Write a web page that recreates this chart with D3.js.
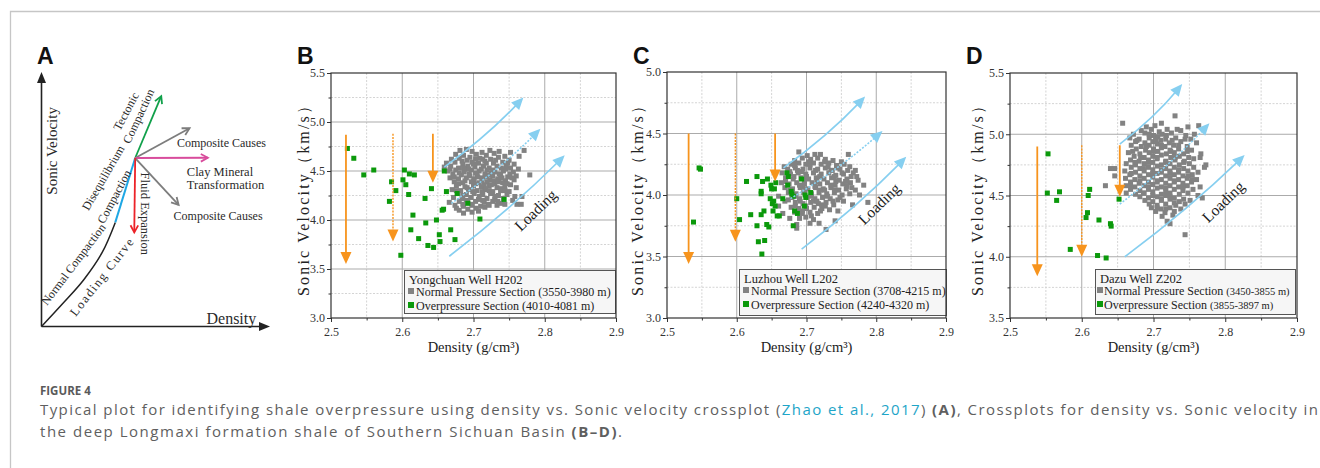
<!DOCTYPE html>
<html>
<head>
<meta charset="utf-8">
<script src="https://cdn.jsdelivr.net/npm/d3@7"></script>
<style>
  html, body { margin: 0; padding: 0; background: #fff; }
  svg { display: block; }
</style>
</head>
<body>
<svg id="fig" width="1320" height="468"></svg>
<script>
// ---------------- data ----------------
const densityTicks = [2.5, 2.6, 2.7, 2.8, 2.9];
const velocityTicksB = [3.0, 3.5, 4.0, 4.5, 5.0, 5.5];
const velocityTicksC = [3.0, 3.5, 4.0, 4.5, 5.0];
const velocityTicksD = [3.5, 4.0, 4.5, 5.0, 5.5];

const wellNames = ["Yongchuan Well H202", "Luzhou Well L202", "Dazu Well Z202"];
const normalDepths = ["(3550-3980 m)", "(3708-4215 m)", "(3450-3855 m)"];
const overDepths = ["(4010-4081 m)", "(4240-4320 m)", "(3855-3897 m)"];

// [density g/cm3, sonic velocity km/s]
const normalB = [
  [2.690,4.72],[2.681,4.71],[2.698,4.70],[2.712,4.69],[2.723,4.71],[2.736,4.70],[2.771,4.71],[2.752,4.69],
  [2.675,4.67],[2.686,4.66],[2.704,4.67],[2.718,4.66],[2.729,4.68],[2.744,4.65],[2.764,4.65],[2.695,4.64],
  [2.669,4.62],[2.680,4.63],[2.709,4.63],[2.724,4.62],[2.735,4.64],[2.750,4.61],[2.691,4.61],[2.716,4.60],
  [2.662,4.58],[2.674,4.59],[2.685,4.57],[2.698,4.59],[2.707,4.58],[2.728,4.58],[2.741,4.59],[2.757,4.57],[2.746,4.55],
  [2.659,4.54],[2.668,4.55],[2.679,4.53],[2.692,4.55],[2.702,4.54],[2.714,4.55],[2.722,4.53],[2.733,4.55],[2.752,4.53],[2.763,4.52],
  [2.664,4.50],[2.675,4.51],[2.687,4.49],[2.697,4.51],[2.708,4.50],[2.719,4.51],[2.730,4.49],[2.742,4.50],[2.756,4.49],[2.779,4.46],
  [2.671,4.47],[2.683,4.46],[2.694,4.47],[2.705,4.46],[2.716,4.47],[2.727,4.45],[2.738,4.46],[2.748,4.44],[2.760,4.45],
  [2.667,4.43],[2.679,4.42],[2.690,4.43],[2.701,4.42],[2.712,4.43],[2.723,4.41],[2.734,4.42],[2.745,4.40],[2.757,4.41],
  [2.673,4.39],[2.685,4.38],[2.697,4.39],[2.708,4.38],[2.719,4.39],[2.730,4.37],[2.741,4.38],[2.752,4.36],
  [2.676,4.35],[2.688,4.34],[2.700,4.35],[2.711,4.34],[2.722,4.35],[2.733,4.33],[2.744,4.34],[2.760,4.33],
  [2.670,4.31],[2.682,4.30],[2.693,4.31],[2.705,4.30],[2.716,4.31],[2.727,4.29],[2.738,4.30],[2.750,4.29],
  [2.678,4.27],[2.690,4.26],[2.701,4.27],[2.713,4.26],[2.724,4.27],[2.735,4.25],[2.747,4.26],[2.758,4.24],
  [2.672,4.23],[2.684,4.22],[2.696,4.23],[2.707,4.21],[2.719,4.22],[2.730,4.21],[2.742,4.22],[2.768,4.24],
  [2.680,4.19],[2.692,4.18],[2.703,4.19],[2.715,4.18],[2.727,4.19],[2.738,4.17],[2.666,4.18],
  [2.674,4.15],[2.686,4.14],[2.698,4.15],[2.710,4.14],[2.721,4.16],[2.744,4.16],[2.761,4.16],[2.767,4.16],
  [2.680,4.10],[2.692,4.11],[2.704,4.12],[2.716,4.13],[2.686,4.07],[2.698,4.08],[2.676,4.12],
  [2.700,4.40],[2.715,4.36],[2.706,4.44],[2.725,4.48],[2.693,4.52],[2.712,4.29],[2.729,4.40],[2.739,4.53],[2.718,4.58],[2.703,4.62],
  [2.684,4.60],[2.700,4.57],[2.713,4.62],[2.731,4.61],[2.748,4.58],[2.667,4.52],[2.686,4.53],[2.711,4.52],[2.727,4.51],[2.745,4.52],
  [2.680,4.48],[2.703,4.48],[2.722,4.46],[2.736,4.47],[2.751,4.47],[2.673,4.44],[2.695,4.45],[2.718,4.44],[2.740,4.43],[2.754,4.43],
  [2.688,4.40],[2.712,4.40],[2.735,4.39],[2.679,4.37],[2.703,4.37],[2.725,4.36],[2.747,4.37],[2.691,4.33],[2.717,4.32],[2.739,4.32],
  [2.676,4.30],[2.699,4.29],[2.722,4.30],[2.744,4.30],[2.685,4.25],[2.708,4.24],[2.730,4.24],[2.690,4.20],[2.713,4.20],[2.734,4.19],
  [2.698,4.16],[2.722,4.15],[2.685,4.16],[2.707,4.09],[2.733,4.15],[2.755,4.20]
];
const overB = [
  [2.523,4.73],[2.532,4.63],[2.546,4.46],[2.560,4.51],[2.582,4.19],[2.585,4.39],[2.591,4.30],[2.598,3.64],
  [2.601,4.41],[2.603,4.51],[2.605,4.36],[2.609,4.26],[2.610,4.47],[2.617,4.46],[2.615,4.05],[2.612,3.90],
  [2.623,3.81],[2.632,4.22],[2.633,3.97],[2.636,3.74],[2.641,4.32],[2.644,3.72],[2.648,4.00],[2.652,3.85],
  [2.653,3.78],[2.656,4.10],[2.658,4.11],[2.659,4.50],[2.662,4.29],[2.668,3.90],[2.674,3.80],[2.677,4.27],
  [2.692,4.17],[2.709,4.01],[2.743,4.21]
];

const normalC = [
  [2.689,4.35],[2.701,4.32],[2.712,4.33],[2.720,4.33],[2.760,4.33],[2.694,4.30],[2.706,4.29],[2.716,4.30],[2.727,4.29],[2.738,4.28],[2.683,4.28],
  [2.678,4.25],[2.689,4.26],[2.699,4.25],[2.710,4.26],[2.721,4.25],[2.732,4.26],[2.743,4.24],[2.754,4.25],[2.668,4.23],
  [2.673,4.21],[2.684,4.22],[2.695,4.21],[2.705,4.22],[2.716,4.21],[2.727,4.22],[2.737,4.20],[2.748,4.21],[2.759,4.20],
  [2.665,4.18],[2.677,4.17],[2.688,4.18],[2.699,4.17],[2.710,4.18],[2.721,4.17],[2.732,4.18],[2.742,4.16],[2.753,4.17],[2.767,4.18],
  [2.670,4.14],[2.681,4.13],[2.692,4.14],[2.703,4.13],[2.714,4.14],[2.725,4.13],[2.736,4.14],[2.747,4.12],[2.758,4.13],[2.772,4.15],
  [2.664,4.10],[2.675,4.09],[2.686,4.10],[2.697,4.09],[2.708,4.10],[2.719,4.09],[2.730,4.10],[2.741,4.08],[2.752,4.09],[2.763,4.10],[2.782,4.08],
  [2.669,4.06],[2.680,4.05],[2.691,4.06],[2.702,4.05],[2.713,4.06],[2.724,4.05],[2.735,4.06],[2.746,4.04],[2.757,4.05],[2.770,4.04],
  [2.674,4.02],[2.685,4.01],[2.696,4.02],[2.707,4.01],[2.718,4.02],[2.729,4.01],[2.740,4.02],[2.751,4.00],[2.762,4.01],
  [2.660,3.99],[2.679,3.98],[2.690,3.97],[2.701,3.98],[2.712,3.97],[2.723,3.98],[2.734,3.97],[2.745,3.96],[2.753,3.95],
  [2.669,3.95],[2.684,3.94],[2.695,3.93],[2.706,3.94],[2.717,3.93],[2.728,3.94],[2.739,3.92],[2.766,3.92],
  [2.660,3.91],[2.678,3.90],[2.689,3.89],[2.700,3.89],[2.711,3.90],[2.722,3.89],[2.733,3.88],
  [2.666,3.85],[2.683,3.86],[2.694,3.85],[2.705,3.86],[2.716,3.85],[2.745,3.87],
  [2.676,3.81],[2.699,3.82],[2.710,3.80],[2.686,3.76],[2.705,3.77],[2.718,3.77],[2.728,3.72],[2.741,3.79],[2.686,3.73],[2.788,3.94],
  [2.700,4.15],[2.715,4.11],[2.726,4.04],[2.695,4.07],[2.710,3.95],[2.735,4.20],[2.705,4.25],[2.742,4.11],[2.722,3.92],[2.687,4.20],
  [2.750,4.27],[2.762,4.23],[2.770,4.20],[2.774,4.12],[2.776,4.00],
  [2.683,4.24],[2.703,4.27],[2.726,4.27],[2.745,4.22],[2.676,4.19],[2.693,4.19],[2.713,4.20],[2.731,4.23],[2.751,4.18],[2.764,4.15],
  [2.682,4.15],[2.697,4.11],[2.719,4.15],[2.740,4.15],[2.756,4.11],[2.670,4.11],[2.690,4.08],[2.712,4.07],[2.735,4.08],[2.758,4.07],
  [2.676,4.04],[2.698,4.04],[2.720,4.04],[2.741,4.04],[2.765,4.06],[2.684,3.99],[2.707,3.99],[2.730,3.99],[2.748,3.98],[2.674,3.96],
  [2.691,3.95],[2.715,3.95],[2.738,3.95],[2.699,3.91],[2.727,3.91],[2.684,3.91],[2.694,3.87],[2.720,3.87],[2.707,3.83],[2.690,3.81]
];
const overC = [
  [2.546,4.22],[2.548,4.21],[2.538,3.78],[2.600,3.97],[2.604,3.80],[2.614,4.11],[2.620,3.84],[2.629,4.15],
  [2.629,3.75],[2.631,3.62],[2.635,4.03],[2.635,4.01],[2.635,3.84],[2.636,3.52],[2.637,4.11],[2.639,3.87],
  [2.640,3.63],[2.643,3.76],[2.644,4.13],[2.646,3.74],[2.648,3.97],[2.649,4.08],[2.650,4.05],[2.651,3.93],
  [2.652,3.87],[2.653,3.95],[2.654,4.05],[2.655,3.91],[2.656,4.10],[2.658,3.83],[2.661,3.83],[2.666,3.97],
  [2.672,4.18],[2.673,4.08],[2.674,4.15],[2.678,4.03],[2.679,4.01],[2.681,3.99],[2.681,3.75],[2.683,3.87],
  [2.687,3.85],[2.693,4.13],[2.697,3.91],[2.698,4.00],[2.699,3.98],[2.706,4.02]
];

const normalD = [
  [2.730,5.15],[2.657,5.09],[2.711,5.09],[2.690,5.06],[2.702,5.07],[2.748,5.06],[2.763,5.07],
  [2.683,5.03],[2.697,5.04],[2.708,5.02],[2.719,5.04],[2.738,5.03],
  [2.672,5.00],[2.688,5.01],[2.700,4.99],[2.712,5.00],[2.725,5.01],[2.745,4.99],[2.757,5.00],
  [2.667,4.97],[2.680,4.96],[2.694,4.97],[2.706,4.98],[2.717,4.96],[2.731,4.97],[2.752,4.96],
  [2.675,4.94],[2.688,4.93],[2.699,4.94],[2.710,4.95],[2.722,4.93],[2.738,4.94],[2.760,4.93],
  [2.669,4.91],[2.683,4.90],[2.694,4.91],[2.705,4.92],[2.716,4.90],[2.728,4.91],[2.747,4.90],
  [2.676,4.88],[2.689,4.87],[2.700,4.88],[2.711,4.89],[2.723,4.87],[2.735,4.88],[2.753,4.87],
  [2.665,4.85],[2.681,4.84],[2.694,4.85],[2.706,4.86],[2.718,4.84],[2.729,4.85],[2.742,4.84],[2.766,4.84],
  [2.673,4.82],[2.687,4.81],[2.699,4.82],[2.711,4.83],[2.724,4.81],[2.736,4.82],[2.749,4.81],[2.765,4.81],
  [2.668,4.79],[2.680,4.78],[2.693,4.79],[2.705,4.80],[2.717,4.78],[2.730,4.79],[2.743,4.78],
  [2.662,4.76],[2.675,4.75],[2.687,4.76],[2.699,4.77],[2.711,4.75],[2.723,4.76],[2.736,4.75],[2.750,4.76],[2.773,4.75],
  [2.640,4.72],[2.646,4.72],[2.669,4.73],[2.681,4.72],[2.693,4.73],[2.705,4.74],[2.717,4.72],[2.729,4.73],[2.742,4.72],[2.756,4.73],[2.771,4.73],
  [2.660,4.70],[2.675,4.69],[2.687,4.70],[2.699,4.71],[2.711,4.69],[2.723,4.70],[2.735,4.69],[2.748,4.70],[2.762,4.69],
  [2.646,4.66],[2.667,4.67],[2.681,4.66],[2.693,4.67],[2.705,4.68],[2.717,4.66],[2.729,4.67],[2.741,4.66],[2.754,4.67],
  [2.661,4.64],[2.674,4.63],[2.687,4.64],[2.699,4.65],[2.711,4.63],[2.723,4.64],[2.735,4.63],[2.747,4.64],[2.760,4.63],
  [2.668,4.61],[2.680,4.60],[2.693,4.61],[2.705,4.62],[2.717,4.60],[2.729,4.61],[2.741,4.60],[2.753,4.61],
  [2.633,4.58],[2.662,4.58],[2.674,4.57],[2.687,4.58],[2.699,4.59],[2.711,4.57],[2.723,4.58],[2.735,4.57],[2.747,4.58],[2.765,4.57],
  [2.668,4.55],[2.681,4.54],[2.693,4.55],[2.705,4.56],[2.717,4.54],[2.729,4.55],[2.741,4.54],[2.755,4.55],
  [2.662,4.52],[2.675,4.51],[2.687,4.52],[2.699,4.53],[2.711,4.51],[2.723,4.52],[2.736,4.51],[2.762,4.50],
  [2.681,4.49],[2.693,4.48],[2.705,4.49],[2.717,4.50],[2.729,4.48],[2.742,4.47],[2.768,4.48],
  [2.688,4.46],[2.699,4.45],[2.711,4.46],[2.723,4.47],[2.736,4.45],[2.751,4.46],
  [2.694,4.43],[2.705,4.42],[2.717,4.43],[2.731,4.42],[2.744,4.43],
  [2.697,4.40],[2.710,4.39],[2.723,4.40],[2.738,4.39],
  [2.703,4.37],[2.716,4.36],[2.729,4.37],[2.712,4.33],[2.727,4.34],[2.719,4.29],[2.723,4.27],[2.744,4.18],
  [2.694,5.00],[2.718,4.99],[2.733,5.04],[2.677,4.95],[2.703,4.95],[2.726,4.95],[2.744,4.96],[2.690,4.90],[2.711,4.91],[2.735,4.91],
  [2.671,4.86],[2.700,4.86],[2.724,4.86],[2.747,4.86],[2.682,4.81],[2.705,4.81],[2.730,4.81],[2.756,4.80],[2.674,4.77],[2.693,4.77],
  [2.717,4.77],[2.742,4.77],[2.686,4.72],[2.711,4.71],[2.735,4.71],[2.669,4.68],[2.699,4.68],[2.723,4.68],[2.748,4.66],[2.681,4.62],
  [2.705,4.61],[2.729,4.62],[2.754,4.63],[2.668,4.58],[2.693,4.57],[2.717,4.56],[2.741,4.57],[2.699,4.50],[2.723,4.49],[2.711,4.47],
  [2.729,4.44],[2.705,4.40],[2.717,4.39],[2.686,4.52],[2.748,4.52]
];
const overD = [
  [2.553,4.84],[2.552,4.52],[2.569,4.53],[2.565,4.46],[2.584,4.06],[2.611,4.55],[2.609,4.50],[2.608,4.36],
  [2.606,4.32],[2.624,4.30],[2.622,4.01],[2.634,3.99],[2.640,4.27],[2.641,4.25],[2.652,4.47]
];

// pressure-drop arrows: density, start velocity, end velocity, dotted
const dropArrowsB = [[2.521,4.87,3.55,false],[2.587,4.88,3.78,true],[2.643,4.88,4.38,false]];
const dropArrowsC = [[2.531,4.50,3.44,false],[2.598,4.50,3.62,true],[2.655,4.50,4.11,false]];
const dropArrowsD = [[2.538,4.90,3.84,false],[2.600,4.91,4.00,true],[2.653,4.91,4.49,false]];
// loading trend arrows: [d0, v0, d1, v1, dotted]
const loadArrowsB = [[2.659,4.54,2.770,5.25,false],[2.669,4.17,2.794,4.93,true],[2.666,3.63,2.828,4.66,false]];
const loadArrowsC = [[2.667,4.22,2.784,4.80,false],[2.677,3.97,2.809,4.52,true],[2.693,3.56,2.843,4.31,false]];
const loadArrowsD = [[2.653,4.92,2.740,5.41,false],[2.653,4.43,2.778,5.09,true],[2.660,4.00,2.827,4.83,false]];
const loadingLabelPos = [[2.787,4.10],[2.804,3.93],[2.797,4.45]];

// ---------------- drawing ----------------
const svg = d3.select("#fig");
const SERIF = "'Liberation Serif','Times New Roman',serif";
const SANS = "'Liberation Sans',Arial,sans-serif";
const COL = { grey: "#828282", green: "#0b990b", orange: "#f7941d", blue: "#86cff0", ink: "#222" };

svg.append("rect").attr("width", 1320).attr("height", 468).attr("fill", "#fff");
svg.append("path").attr("d", "M10.5,468V11.5H1320")
  .attr("fill", "none").attr("stroke", "#c6c6c6").attr("stroke-width", 1.3);

function headPath(tip, from, len, half) {
  const dx = tip[0] - from[0], dy = tip[1] - from[1];
  const L = Math.hypot(dx, dy), ux = dx / L, uy = dy / L;
  const bx = tip[0] - ux * len, by = tip[1] - uy * len;
  return `M${tip[0]},${tip[1]}L${bx - uy * half},${by + ux * half}L${bx + uy * half},${by - ux * half}Z`;
}
function chevron(tip, from, len, spread) {
  const a = Math.atan2(from[1] - tip[1], from[0] - tip[0]);
  const p1 = [tip[0] + len * Math.cos(a + spread), tip[1] + len * Math.sin(a + spread)];
  const p2 = [tip[0] + len * Math.cos(a - spread), tip[1] + len * Math.sin(a - spread)];
  return `M${p1[0]},${p1[1]}L${tip[0]},${tip[1]}L${p2[0]},${p2[1]}`;
}

// ---- panel A: schematic ----
(function drawSchematic() {
  const sx = d3.scaleLinear([0, 1], [41.5, 270]);
  const sy = d3.scaleLinear([0, 1], [326.5, 72]);
  const g = svg.append("g");
  const P = p => [sx(p[0]), sy(p[1])];

  // axes
  g.append("path").attr("d", `M${sx(0)},${sy(0)}V${sy(1) + 9}M${sx(0)},${sy(0)}H${sx(1) - 9}`)
    .attr("stroke", "#222").attr("stroke-width", 1.6).attr("fill", "none");
  g.append("path").attr("d", headPath([sx(0), sy(1)], [sx(0), sy(0)], 11, 4.5)).attr("fill", "#222");
  g.append("path").attr("d", headPath([sx(1), sy(0)], [sx(0), sy(0)], 11, 4.5)).attr("fill", "#222");

  const loading = [[0, 0], [0.097, 0.094], [0.185, 0.184], [0.265, 0.290], [0.323, 0.409]];
  g.append("path").attr("d", d3.line().curve(d3.curveCatmullRom)(loading.map(P)))
    .attr("fill", "none").attr("stroke", "#222").attr("stroke-width", 1.5);
  const branch = [0.410, 0.662];
  g.append("line").attr("x1", sx(0.323)).attr("y1", sy(0.409)).attr("x2", sx(branch[0])).attr("y2", sy(branch[1]))
    .attr("stroke", "#1ea7e4").attr("stroke-width", 2);

  const arrows = [
    { to: [0.524, 0.905], color: "#10a04a" },
    { to: [0.648, 0.779], color: "#7d7d7d" },
    { to: [0.728, 0.663], color: "#d84c9c" },
    { to: [0.600, 0.478], color: "#7d7d7d" },
    { to: [0.406, 0.370], color: "#ec2329" }
  ];
  arrows.forEach(a => {
    const from = P(branch), tip = P(a.to);
    g.append("line").attr("x1", from[0]).attr("y1", from[1]).attr("x2", tip[0]).attr("y2", tip[1])
      .attr("stroke", a.color).attr("stroke-width", 1.8);
    g.append("path").attr("d", chevron(tip, from, 8, 0.5))
      .attr("fill", "none").attr("stroke", a.color).attr("stroke-width", 1.8);
  });

  const labels = [
    { t: "Normal Compaction", p: [0.140, 0.244], r: -53, s: 12 },
    { t: "Loading Curve", p: [0.266, 0.196], r: -52, s: 12.5, ls: 1.6 },
    { t: "Disequilibrium", p: [0.270, 0.584], r: -60, s: 12 },
    { t: "Compaction", p: [0.318, 0.510], r: -62, s: 12 },
    { t: "Tectonic", p: [0.370, 0.845], r: -62, s: 12 },
    { t: "Compaction", p: [0.425, 0.826], r: -65, s: 12 },
    { t: "Fluid Expansion", p: [0.455, 0.443], r: 90, s: 12.5 },
    { t: "Sonic Velocity", p: [0.046, 0.690], r: -90, s: 15 }
  ];
  labels.forEach(l => {
    const [x, y] = P(l.p);
    g.append("text").attr("transform", `translate(${x},${y}) rotate(${l.r})`)
      .attr("text-anchor", "middle").attr("dominant-baseline", "central")
      .attr("font-family", SERIF).attr("font-size", l.s).attr("fill", "#2a2a2a")
      .attr("letter-spacing", l.ls || 0).text(l.t);
  });
  const flat = [
    { t: "Composite Causes", p: [0.593, 0.720], s: 12 },
    { t: "Clay Mineral", p: [0.636, 0.609], s: 12.5 },
    { t: "Transformation", p: [0.636, 0.557], s: 12.5 },
    { t: "Composite Causes", p: [0.578, 0.435], s: 12 },
    { t: "Density", p: [0.722, 0.033], s: 16 }
  ];
  flat.forEach(l => {
    const [x, y] = P(l.p);
    g.append("text").attr("x", x).attr("y", y).attr("dominant-baseline", "central")
      .attr("font-family", SERIF).attr("font-size", l.s).attr("fill", "#2a2a2a").text(l.t);
  });
})();

// ---- panels B-D: crossplots ----
const panels = [
  { x0: 331, x1: 616, y0: 73, y1: 318, vDomain: [3.0, 5.5], vTicks: velocityTicksB, normal: normalB, over: overB,
    drops: dropArrowsB, loads: loadArrowsB, box: [404, 270, 211, 43], yTitleX: 303, smallDepth: false },
  { x0: 667, x1: 946, y0: 72, y1: 318, vDomain: [3.0, 5.0], vTicks: velocityTicksC, normal: normalC, over: overC,
    drops: dropArrowsC, loads: loadArrowsC, box: [739, 269, 207, 46], yTitleX: 637, smallDepth: false },
  { x0: 1010, x1: 1297, y0: 73, y1: 318, vDomain: [3.5, 5.5], vTicks: velocityTicksD, normal: normalD, over: overD,
    drops: dropArrowsD, loads: loadArrowsD, box: [1095, 269, 200, 45], yTitleX: 977, smallDepth: true }
];

panels.forEach((p, i) => {
  const x = d3.scaleLinear().domain([2.5, 2.9]).range([p.x0, p.x1]);
  const y = d3.scaleLinear().domain(p.vDomain).range([p.y1, p.y0]);
  const g = svg.append("g");
  const minorX = densityTicks.slice(0, -1).map(t => +(t + 0.05).toFixed(2));
  const minorY = p.vTicks.slice(0, -1).map(t => +(t + 0.25).toFixed(2));

  // grid
  g.selectAll(".gmx").data(minorX).join("line")
    .attr("x1", d => x(d)).attr("x2", d => x(d)).attr("y1", p.y0).attr("y2", p.y1)
    .attr("stroke", "#d4d4d4").attr("stroke-dasharray", "2,1.5").attr("stroke-width", 1);
  g.selectAll(".gmy").data(minorY).join("line")
    .attr("y1", d => y(d)).attr("y2", d => y(d)).attr("x1", p.x0).attr("x2", p.x1)
    .attr("stroke", "#d4d4d4").attr("stroke-dasharray", "2,1.5").attr("stroke-width", 1);
  g.selectAll(".gx").data(densityTicks.slice(1, -1)).join("line")
    .attr("x1", d => x(d)).attr("x2", d => x(d)).attr("y1", p.y0).attr("y2", p.y1)
    .attr("stroke", "#ababab").attr("stroke-width", 1);
  g.selectAll(".gy").data(p.vTicks.slice(1, -1)).join("line")
    .attr("y1", d => y(d)).attr("y2", d => y(d)).attr("x1", p.x0).attr("x2", p.x1)
    .attr("stroke", "#ababab").attr("stroke-width", 1);

  // points
  const sz = 5;
  g.selectAll(".pn").data(p.normal).join("rect")
    .attr("x", d => x(d[0]) - sz / 2).attr("y", d => y(d[1]) - sz / 2)
    .attr("width", sz).attr("height", sz).attr("fill", COL.grey);
  g.selectAll(".po").data(p.over).join("rect")
    .attr("x", d => x(d[0]) - sz / 2).attr("y", d => y(d[1]) - sz / 2)
    .attr("width", sz).attr("height", sz).attr("fill", COL.green);

  // loading trend arrows
  p.loads.forEach(a => {
    const s = [x(a[0]), y(a[1])], e = [x(a[2]), y(a[3])];
    const mx = (s[0] + e[0]) / 2, my = (s[1] + e[1]) / 2;
    const dx = e[0] - s[0], dy = e[1] - s[1], L = Math.hypot(dx, dy);
    const c = [mx - dy / L * 5, my + dx / L * 5];
    const cl = Math.hypot(e[0] - c[0], e[1] - c[1]);
    const end = [e[0] - (e[0] - c[0]) / cl * 8, e[1] - (e[1] - c[1]) / cl * 8];
    g.append("path").attr("d", `M${s[0]},${s[1]}Q${c[0]},${c[1]} ${end[0]},${end[1]}`)
      .attr("fill", "none").attr("stroke", COL.blue).attr("stroke-width", 1.6)
      .attr("stroke-dasharray", a[4] ? "2,1.5" : null);
    g.append("path").attr("d", headPath(e, c, 12, 5.5)).attr("fill", COL.blue);
  });

  // pressure-drop arrows
  p.drops.forEach(a => {
    const px = x(a[0]), ys = y(a[1]), ye = y(a[2]);
    g.append("line").attr("x1", px).attr("x2", px).attr("y1", ys).attr("y2", ye - 10)
      .attr("stroke", COL.orange).attr("stroke-width", a[3] ? 1.4 : 1.8)
      .attr("stroke-dasharray", a[3] ? "2,1.2" : null);
    g.append("path").attr("d", headPath([px, ye], [px, ys], 12, 5.5)).attr("fill", COL.orange);
  });

  // "Loading" label
  const lp = loadingLabelPos[i];
  g.append("text").attr("transform", `translate(${x(lp[0])},${y(lp[1])}) rotate(-44)`)
    .attr("text-anchor", "middle").attr("dominant-baseline", "central")
    .attr("font-family", SERIF).attr("font-size", 15.5).attr("fill", "#1c1c1c").text("Loading");

  // legend
  const [bx, by, bw, bh] = p.box;
  const lg = g.append("g");
  lg.append("rect").attr("x", bx + 0.5).attr("y", by + 0.5).attr("width", bw).attr("height", bh)
    .attr("fill", "#f6f6f6").attr("stroke", "#555").attr("stroke-width", 1);
  lg.append("text").attr("x", bx + 5).attr("y", by + 14).attr("font-family", SERIF)
    .attr("font-size", 12.5).attr("fill", "#222").text(wellNames[i]);
  const rows = [["Normal Pressure Section", normalDepths[i], COL.grey, 25.5],
                ["Overpressure Section", overDepths[i], COL.green, 39.5]];
  rows.forEach(r => {
    lg.append("rect").attr("x", bx + (p.smallDepth ? 2 : 4)).attr("y", by + r[3] - 7.5)
      .attr("width", 6).attr("height", 6).attr("fill", r[2]);
    const t = lg.append("text").attr("x", bx + (p.smallDepth ? 9 : 12)).attr("y", by + r[3])
      .attr("font-family", SERIF).attr("font-size", 12).attr("fill", "#222");
    t.append("tspan").text(r[0] + " ");
    t.append("tspan").attr("font-size", p.smallDepth ? 10.5 : 12).text(r[1]);
  });

  // axes
  const ax = g.append("g");
  const bottom = ax.append("g").attr("transform", `translate(0,${p.y1})`)
    .call(d3.axisBottom(x).tickValues(densityTicks).tickSize(4).tickSizeOuter(0).tickFormat(d3.format(".1f")));
  const bottomMinor = ax.append("g").attr("transform", `translate(0,${p.y1})`)
    .call(d3.axisBottom(x).tickValues(minorX).tickSize(2.5).tickFormat(""));
  const left = ax.append("g").attr("transform", `translate(${p.x0},0)`)
    .call(d3.axisLeft(y).tickValues(p.vTicks).tickSize(4).tickSizeOuter(0).tickFormat(d3.format(".1f")));
  const leftMinor = ax.append("g").attr("transform", `translate(${p.x0},0)`)
    .call(d3.axisLeft(y).tickValues(minorY).tickSize(2.5).tickFormat(""));
  [bottom, bottomMinor, left, leftMinor].forEach(a => {
    a.select(".domain").remove();
    a.selectAll("line").attr("stroke", "#333");
    a.selectAll("text").attr("font-family", SERIF).attr("font-size", 12).attr("fill", "#333");
  });
  bottom.selectAll("text").attr("dy", "0.95em");
  left.selectAll("text").attr("x", -6);
  g.append("rect").attr("x", p.x0).attr("y", p.y0).attr("width", p.x1 - p.x0).attr("height", p.y1 - p.y0)
    .attr("fill", "none").attr("stroke", "#333").attr("stroke-width", 1.2);

  // titles
  g.append("text").attr("x", (p.x0 + p.x1) / 2).attr("y", 352).attr("text-anchor", "middle")
    .attr("font-family", SERIF).attr("font-size", 14.5).attr("fill", "#222").text("Density (g/cm³)");
  g.append("text").attr("transform", `translate(${p.yTitleX},197) rotate(-90)`)
    .attr("text-anchor", "middle").attr("dominant-baseline", "central")
    .attr("font-family", SERIF).attr("font-size", 16).attr("fill", "#222")
    .attr("textLength", 198).attr("lengthAdjust", "spacing").text("Sonic Velocity（km/s）");
});

// panel letters
[["A", 37], ["B", 297], ["C", 633], ["D", 966]].forEach(([t, x]) => {
  svg.append("text").attr("x", x).attr("y", 64).attr("font-family", SANS).attr("font-weight", "bold")
    .attr("font-size", 23).attr("fill", "#111").text(t);
});

// caption
const CAP = "'Open Sans','Noto Sans',sans-serif";
svg.append("text").attr("x", 40).attr("y", 395).attr("font-family", CAP).attr("font-weight", "bold")
  .attr("font-size", 11.5).attr("fill", "#5a5a5a").text("FIGURE 4");
const cap1 = svg.append("text").attr("x", 40).attr("y", 415).attr("font-family", CAP).attr("font-size", 15)
  .attr("fill", "#5f5f5f").attr("textLength", 1278).attr("lengthAdjust", "spacing");
cap1.append("tspan").text("Typical plot for identifying shale overpressure using density vs. Sonic velocity crossplot (");
cap1.append("tspan").attr("fill", "#1ea5c8").text("Zhao et al., 2017");
cap1.append("tspan").text(") ");
cap1.append("tspan").attr("font-weight", "bold").text("(A)");
cap1.append("tspan").text(", Crossplots for density vs. Sonic velocity in");
const cap2 = svg.append("text").attr("x", 40).attr("y", 437).attr("font-family", CAP).attr("font-size", 15)
  .attr("fill", "#5f5f5f").attr("textLength", 582).attr("lengthAdjust", "spacing");
cap2.append("tspan").text("the deep Longmaxi formation shale of Southern Sichuan Basin ");
cap2.append("tspan").attr("font-weight", "bold").text("(B–D)");
cap2.append("tspan").text(".");
</script>
</body>
</html>
